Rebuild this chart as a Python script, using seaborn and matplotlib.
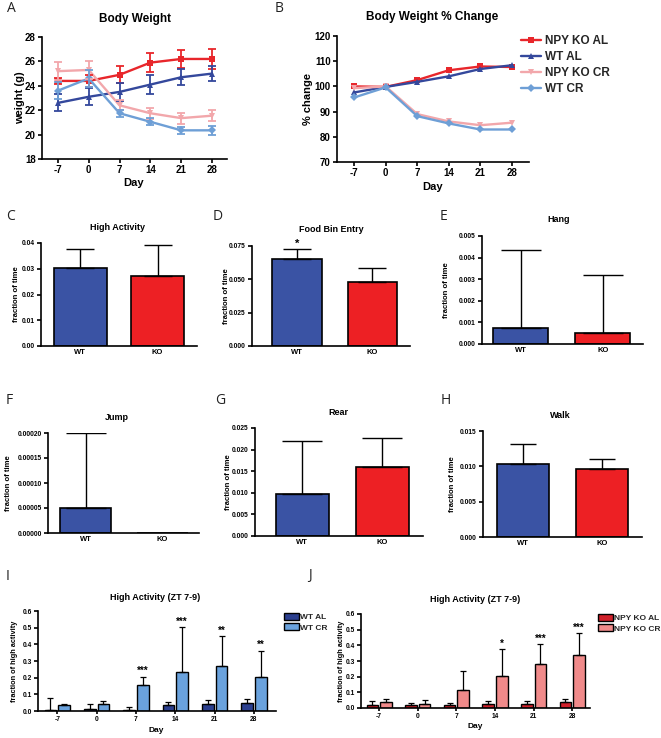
import matplotlib
matplotlib.use('Agg')
import matplotlib.pyplot as plt
import matplotlib.ticker as mticker
import seaborn as sns
import pandas as pd

W, H = 661, 738

# ---------------- data ----------------
days = [-7, 0, 7, 14, 21, 28]
day_labels = ['-7', '0', '7', '14', '21', '28']
line_groups = ['NPY KO AL', 'WT AL', 'NPY KO CR', 'WT CR']

bw_ko_al = [24.4, 24.4, 24.9, 25.9, 26.2, 26.2]
bw_ko_al_err = [0.25, 0.5, 0.7, 0.8, 0.75, 0.8]
bw_wt_al = [22.6, 23.1, 23.5, 24.1, 24.7, 25.0]
bw_wt_al_err = [0.7, 0.7, 0.75, 0.75, 0.65, 0.6]
bw_ko_cr = [25.2, 25.3, 22.4, 21.75, 21.35, 21.55]
bw_ko_cr_err = [0.75, 0.75, 0.4, 0.45, 0.45, 0.45]
bw_wt_cr = [23.6, 24.6, 21.75, 21.05, 20.35, 20.35]
bw_wt_cr_err = [0.7, 0.7, 0.3, 0.3, 0.3, 0.35]

pct_ko_al = [100.0, 99.8, 102.5, 106.4, 107.9, 107.7]
pct_wt_al = [97.6, 99.8, 101.8, 104.0, 106.9, 108.4]
pct_ko_cr = [99.3, 100.0, 89.0, 86.1, 84.6, 85.6]
pct_wt_cr = [95.6, 99.6, 88.2, 85.3, 82.9, 82.9]

genotypes = ['WT', 'KO']
high_act = [0.0301, 0.0273]
high_act_err = [0.0074, 0.0119]
food_bin = [0.0653, 0.0478]
food_bin_err = [0.0077, 0.0107]
hang = [0.00074, 0.00051]
hang_err = [0.00362, 0.00268]
jump = [0.00005, 0.0]
jump_err = [0.00015, 0.0]
rear = [0.00975, 0.0159]
rear_err = [0.01235, 0.0068]
walk = [0.0103, 0.00964]
walk_err = [0.00287, 0.00141]

ha_wt_al = [0.005, 0.010, 0.005, 0.038, 0.041, 0.051]
ha_wt_al_err = [0.073, 0.035, 0.018, 0.015, 0.026, 0.024]
ha_wt_cr = [0.035, 0.042, 0.159, 0.235, 0.273, 0.207]
ha_wt_cr_err = [0.006, 0.021, 0.046, 0.267, 0.177, 0.156]
stars_wt = ['', '', '***', '***', '**', '**']

ha_ko_al = [0.021, 0.017, 0.017, 0.025, 0.027, 0.040]
ha_ko_al_err = [0.021, 0.015, 0.015, 0.022, 0.015, 0.019]
ha_ko_cr = [0.036, 0.025, 0.114, 0.203, 0.282, 0.337]
ha_ko_cr_err = [0.023, 0.028, 0.123, 0.172, 0.127, 0.140]
stars_ko = ['', '', '', '*', '***', '***']

# ---------------- style ----------------
sns.set_theme(style='ticks')
plt.rcParams['font.family'] = ['Liberation Sans', 'DejaVu Sans']
plt.rcParams['font.weight'] = 'bold'
plt.rcParams['axes.labelweight'] = 'bold'
plt.rcParams['axes.titleweight'] = 'bold'
plt.rcParams['axes.unicode_minus'] = False

C_RED = '#E8262B'
C_DBLUE = '#34489C'
C_PINK = '#F2A7AB'
C_LBLUE = '#6E9FD6'
BAR_BLUE = '#3A53A4'
BAR_RED = '#ED2024'

fig = plt.figure(figsize=(W / 100, H / 100), dpi=100)


def box(l, t, r, b):
    return [l / W, 1 - b / H, (r - l) / W, (b - t) / H]


def fx(x):
    return x / W


def fy(y):
    return 1 - y / H


def style(ax, fs, lw=1.2, xlen=0):
    sns.despine(ax=ax)
    for s in ('left', 'bottom'):
        ax.spines[s].set_linewidth(lw)
        ax.spines[s].set_color('black')
    ax.tick_params(axis='both', labelsize=fs, width=lw, color='black', pad=1.5,
                   labelcolor='black')
    ax.tick_params(axis='y', length=3)
    ax.tick_params(axis='x', length=xlen)
    ax.grid(False)


def put_title(ax, s, x, y, fs):
    ax.set_title(s, x=fx(x), y=fy(y), transform=fig.transFigure, va='center',
                 ha='center', fontsize=fs, fontweight='bold', color='black')


def put_xlabel(ax, s, x, y, fs):
    ax.set_xlabel(s, fontsize=fs, fontweight='bold', color='black')
    ax.xaxis.set_label_coords(fx(x), fy(y), transform=fig.transFigure)
    ax.xaxis.label.set_va('center')


def put_ylabel(ax, s, x, y, fs):
    ax.set_ylabel(s, fontsize=fs, fontweight='bold', color='black')
    ax.yaxis.set_label_coords(fx(x), fy(y), transform=fig.transFigure)
    ax.yaxis.label.set_va('center')
    ax.yaxis.label.set_ha('center')


def letter(s, x, y):
    fig.text(fx(x), fy(y), s, fontsize=10, fontweight='normal',
             family=['Open Sans', 'DejaVu Sans'], ha='left', va='center', color='#222222')


# ---------------- A: body weight ----------------
dfA = pd.DataFrame({
    'day': days * 4,
    'weight': bw_ko_al + bw_wt_al + bw_ko_cr + bw_wt_cr,
    'group': [g for g in line_groups for _ in days],
})
errA = [bw_ko_al_err, bw_wt_al_err, bw_ko_cr_err, bw_wt_cr_err]
pal = dict(zip(line_groups, [C_RED, C_DBLUE, C_PINK, C_LBLUE]))
mk = dict(zip(line_groups, ['s', '^', 'v', 'D']))

axA = fig.add_axes(box(42, 37, 227, 159))
sns.lineplot(data=dfA, x='day', y='weight', hue='group', style='group',
             hue_order=line_groups, style_order=line_groups, palette=pal,
             markers=mk, dashes=False, markersize=4.5, markeredgewidth=0,
             linewidth=1.7, legend=False, errorbar=None, ax=axA)
for g, e in zip(line_groups, errA):
    sub = dfA[dfA['group'] == g]
    axA.errorbar(sub['day'], sub['weight'], yerr=e, fmt='none', ecolor=pal[g],
                 elinewidth=1.3, capsize=3, capthick=1.3)
axA.set_xlim(-10.6, 31.4)
axA.set_ylim(18, 28)
axA.set_xticks(days)
axA.set_yticks([18, 20, 22, 24, 26, 28])
style(axA, 7, xlen=3)
put_title(axA, 'Body Weight', 135, 19, 8.5)
put_xlabel(axA, 'Day', 134, 183, 8)
put_ylabel(axA, 'weight (g)', 20, 98, 8)

# ---------------- B: % change ----------------
dfB = pd.DataFrame({
    'day': days * 4,
    'pct': pct_ko_al + pct_wt_al + pct_ko_cr + pct_wt_cr,
    'group': [g for g in line_groups for _ in days],
})
axB = fig.add_axes(box(337, 36, 529, 162))
sns.lineplot(data=dfB, x='day', y='pct', hue='group', style='group',
             hue_order=line_groups, style_order=line_groups, palette=pal,
             markers=mk, dashes=False, markersize=4.5, markeredgewidth=0,
             linewidth=1.7, errorbar=None, ax=axB)
axB.set_xlim(-10.8, 31.8)
axB.set_ylim(70, 120)
axB.set_xticks(days)
axB.set_yticks([70, 80, 90, 100, 110, 120])
style(axB, 7, xlen=3)
put_title(axB, 'Body Weight % Change', 432, 17, 8.5)
put_xlabel(axB, 'Day', 433, 187, 8)
put_ylabel(axB, '% change', 308, 99, 8)
sns.move_legend(axB, 'upper left', bbox_to_anchor=(fx(521), fy(35)),
                bbox_transform=fig.transFigure, frameon=False, title=None,
                fontsize=8.5, handlelength=1.7, handletextpad=0.35,
                labelspacing=0.33, borderpad=0, borderaxespad=0)


# ---------------- C-H: single bar panels ----------------
def bar_panel(rect, vals, errs, ylim, yticks, fmt, xlim, width, cap_px,
              title, tpos, ylab_pos, stars=None):
    ax = fig.add_axes(box(*rect))
    sns.barplot(x=genotypes, y=vals, hue=genotypes, palette=[BAR_BLUE, BAR_RED],
                legend=False, width=width, edgecolor='black', linewidth=1.2,
                errorbar=None, saturation=1, ax=ax)
    patches = sorted(ax.patches, key=lambda p: p.get_x())
    if stars is None:
        stars = [''] * len(vals)
    for p, v, e, s in zip(patches, vals, errs, stars):
        xc = p.get_x() + p.get_width() / 2
        if e > 0:
            ax.errorbar(xc, v, yerr=[[0], [e]], fmt='none', ecolor='black',
                        elinewidth=1.0, capsize=cap_px / 2 * 0.72, capthick=1.0)
        if s:
            ax.text(xc, v + e, s, ha='center', va='bottom', fontsize=8,
                    color='black')
    ax.set_xlim(*xlim)
    ax.set_ylim(*ylim)
    ax.set_yticks(yticks)
    ax.yaxis.set_major_formatter(mticker.FormatStrFormatter(fmt))
    style(ax, 4.8, xlen=0)
    ax.tick_params(axis='x', labelsize=5.5, pad=2)
    put_title(ax, title, tpos[0], tpos[1], 6.5)
    put_ylabel(ax, 'fraction of time', ylab_pos, (rect[1] + rect[3]) / 2, 5.6)
    return ax


bar_panel((41, 243, 197, 346), high_act, high_act_err, (0, 0.04),
          [0, 0.01, 0.02, 0.03, 0.04], '%.2f', (-0.51, 1.51), 0.69, 28,
          'High Activity', (118, 228), 17)
bar_panel((252, 246, 410, 346), food_bin, food_bin_err, (0, 0.075),
          [0, 0.025, 0.05, 0.075], '%.3f', (-0.6, 1.5), 0.66, 28,
          'Food Bin Entry', (331, 230), 226, stars=['*', ''])
bar_panel((482, 236, 643, 344), hang, hang_err, (0, 0.005),
          [0, 0.001, 0.002, 0.003, 0.004, 0.005], '%.3f', (-0.47, 1.49), 0.67, 40,
          'Hang', (559, 220), 447)
bar_panel((48, 433, 199, 533), jump, jump_err, (0, 0.0002),
          [0, 0.00005, 0.0001, 0.00015, 0.0002], '%.5f', (-0.49, 1.48), 0.67, 40,
          'Jump', (117, 418), 9)
bar_panel((255, 428, 423, 536), rear, rear_err, (0, 0.025),
          [0, 0.005, 0.01, 0.015, 0.02, 0.025], '%.3f', (-0.59, 1.51), 0.66, 40,
          'Rear', (338, 412), 228)
bar_panel((483, 431, 642, 537), walk, walk_err, (0, 0.015),
          [0, 0.005, 0.01, 0.015], '%.3f', (-0.51, 1.51), 0.66, 27,
          'Walk', (560, 415), 452)


# ---------------- I, J: grouped bars ----------------
def group_panel(rect, al, al_err, cr, cr_err, names, colors, stars, xlim,
                tpos, daypos, ylabx, legpos):
    df = pd.DataFrame({'Day': day_labels * 2, 'value': al + cr,
                       'group': [names[0]] * 6 + [names[1]] * 6})
    ax = fig.add_axes(box(*rect))
    sns.barplot(data=df, x='Day', y='value', hue='group', order=day_labels,
                hue_order=names, palette=colors, width=0.7, gap=0.15,
                edgecolor='black', linewidth=1.0, errorbar=None, saturation=1,
                ax=ax)
    for cont, vals, errs, st in zip(ax.containers[:2], [al, cr], [al_err, cr_err],
                                    [[''] * 6, stars]):
        for p, v, e, s in zip(cont.patches, vals, errs, st):
            xc = p.get_x() + p.get_width() / 2
            ax.errorbar(xc, v, yerr=[[0], [e]], fmt='none', ecolor='black',
                        elinewidth=0.9, capsize=2.5, capthick=0.9)
            if s:
                ax.text(xc, v + e + 0.003, s, ha='center', va='bottom',
                        fontsize=7, color='black')
    ax.set_xlim(*xlim)
    ax.set_ylim(0, 0.6)
    ax.set_yticks([0, 0.1, 0.2, 0.3, 0.4, 0.5, 0.6])
    ax.yaxis.set_major_formatter(mticker.FormatStrFormatter('%.1f'))
    style(ax, 4.8, xlen=2)
    put_title(ax, 'High Activity (ZT 7-9)', tpos[0], tpos[1], 6.5)
    put_xlabel(ax, 'Day', daypos[0], daypos[1], 6)
    put_ylabel(ax, 'fraction of high activity', ylabx, (rect[1] + rect[3]) / 2, 5.3)
    sns.move_legend(ax, 'upper left', bbox_to_anchor=(fx(legpos[0]), fy(legpos[1])),
                    bbox_transform=fig.transFigure, frameon=False, title=None,
                    fontsize=6, handlelength=1.8, handleheight=0.9,
                    handletextpad=0.15, labelspacing=0.25, borderpad=0,
                    borderaxespad=0)
    for h in ax.get_legend().legend_handles:
        h.set_edgecolor('black')
        h.set_linewidth(1.0)
    return ax


group_panel((38, 611, 276, 711), ha_wt_al, ha_wt_al_err, ha_wt_cr, ha_wt_cr_err,
            ['WT AL', 'WT CR'], ['#2B3F8F', '#6AA2DD'], stars_wt, (-0.49, 5.56),
            (155, 597), (156, 730), 15, (284, 613))
group_panel((361, 614, 590, 708), ha_ko_al, ha_ko_al_err, ha_ko_cr, ha_ko_cr_err,
            ['NPY KO AL', 'NPY KO CR'], ['#D0202A', '#F08A8A'], stars_ko, (-0.47, 5.46),
            (475, 600), (475, 727), 342, (598, 614))

# ---------------- panel letters ----------------
letter('A', 7, 9)
letter('B', 275, 9)
letter('C', 6, 217)
letter('D', 213, 217)
letter('E', 440, 217)
letter('F', 6, 401)
letter('G', 215, 401)
letter('H', 441, 401)
letter('I', 6, 576)
letter('J', 308, 576)

fig.savefig('out.png', dpi=100)
